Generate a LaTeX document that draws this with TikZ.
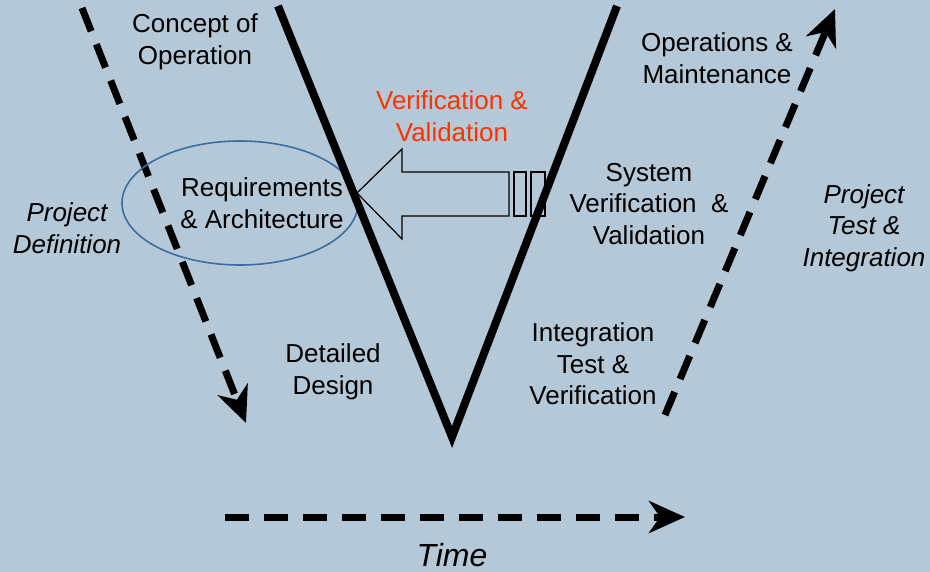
\documentclass[tikz,border=0pt]{standalone}
\usepackage{fontspec}
\setmainfont{Liberation Sans}
\usetikzlibrary{arrows.meta, shapes.geometric}

\definecolor{bgblue}{RGB}{180,200,215}
\definecolor{ellblue}{RGB}{58,110,165}
\definecolor{vvred}{RGB}{255,51,0}

\begin{document}
\begin{tikzpicture}[x=1pt, y=-1pt,
		lbl/.style={align=center, font=\fontsize{26}{31.5}\selectfont},
		ilbl/.style={lbl, font=\fontsize{26}{31.5}\selectfont\itshape},
		vline/.style={line width=8pt, line join=miter},
		dasharrow/.style={line width=7pt, dash pattern=on 25pt off 14pt, -{Stealth[length=36pt, width=32pt, inset=11pt]}}]
		% 背景
		\fill[bgblue] (0,0) rectangle (930,572);
		\useasboundingbox (0,0) rectangle (930,572);

		% V の点
		\coordinate (VL) at (278,6);
		\coordinate (VB) at (452,437);
		\coordinate (VR) at (617,6);

		% 破線の矢印
		\coordinate (PDs) at (82,8);
		\coordinate (PDe) at (246,423);
		\coordinate (PTs) at (665,415);
		\coordinate (PTe) at (835,9);
		\coordinate (Ts) at (225,517);
		\coordinate (Te) at (685,517);
		\draw[dasharrow] (PDs) -- (PDe);
		\draw[dasharrow] (PTs) -- (PTe);
		\draw[dasharrow, dash pattern=on 24pt off 15pt] (Ts) -- (Te);

		% 楕円
		\node[ellipse, draw=ellblue, line width=1.6pt, minimum width=236pt, minimum height=124pt, inner sep=0pt] (RA) at (240,203) {};

		% 大きい矢印
		\draw[line width=1.2pt, line join=miter] (357,193) -- (402,149) -- (402,172) -- (509,172)
			-- (509,216) -- (402,216) -- (402,239) -- cycle;
		\draw[line width=1.2pt] (514,172) rectangle (526,216);
		\draw[line width=1.2pt] (531,172) rectangle (545,216);

		% 文字
		\node[lbl] (CO) at (195,42) {Concept of\\Operation};
		\node[lbl] (OM) at (717,58) {Operations \&\\Maintenance};
		\node[lbl, text=vvred] (VV) at (452,116) {Verification \&\\Validation};
		\node[lbl] (RAt) at (262,203) {Requirements\\\& Architecture};
		\node[lbl] (SVV) at (649,204) {System\\Verification\ \ \&\\Validation};
		\node[ilbl] (PD) at (67,228) {Project\\Definition};
		\node[ilbl] (PT) at (864,228) {Project\\Test \&\\Integration};
		\node[lbl] (DD) at (333,372) {Detailed\\Design};
		\node[lbl] (ITV) at (593,364) {Integration\\Test \&\\Verification};
		\node[font=\fontsize{32}{36}\selectfont\itshape] (T) at (452,555) {Time};

		% V
		\draw[vline] (VL) -- (VB) -- (VR);
	\end{tikzpicture}
\end{document}
